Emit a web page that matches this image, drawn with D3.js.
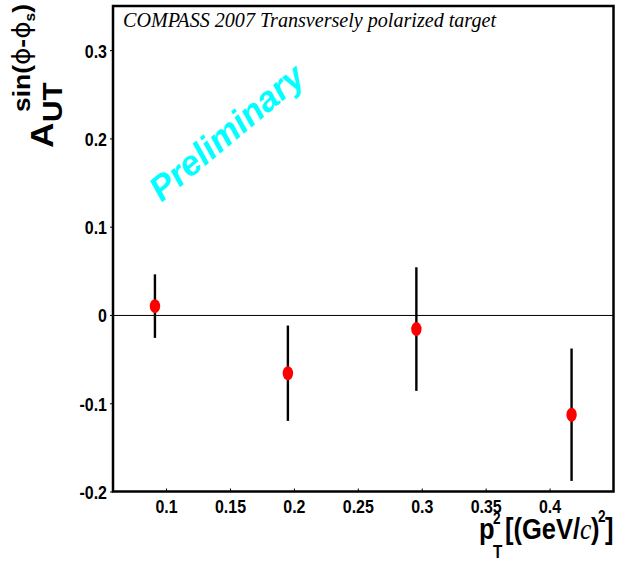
<!DOCTYPE html>
<html>
<head>
<meta charset="utf-8">
<script src="https://cdn.jsdelivr.net/npm/d3@7/dist/d3.min.js"></script>
<style>
  html, body { margin: 0; padding: 0; background: #fff; }
  svg { display: block; }
</style>
</head>
<body>
<svg id="chart" width="617" height="562" font-family="Liberation Sans, Arial, sans-serif"></svg>
<script>
// Sivers-type asymmetry vs pT^2
const ptSquared   = [0.0913, 0.1953, 0.2958, 0.4172];
const asymmetry   = [0.010, -0.066, -0.016, -0.113];
const statError   = [0.036, 0.054, 0.070, 0.075];

const xTickValues = [0.1, 0.15, 0.2, 0.25, 0.3, 0.35, 0.4];
const xTickLabels = ["0.1", "0.15", "0.2", "0.25", "0.3", "0.35", "0.4"];
const yTickValues = [-0.2, -0.1, 0, 0.1, 0.2, 0.3];
const yTickLabels = ["-0.2", "-0.1", "0", "0.1", "0.2", "0.3"];

const SANS = "Liberation Sans, Arial, sans-serif";
const SERIF = "Liberation Serif, Times New Roman, serif";

const svg = d3.select("#chart");
const frame = { left: 113, right: 613.5, top: 6, bottom: 491.5 };

const x = d3.scaleLinear().domain([0.0585, 0.45]).range([frame.left, frame.right]);
const y = d3.scaleLinear().domain([-0.2, 0.35]).range([frame.bottom, frame.top]);

// squeeze a text element horizontally to a fraction of its natural width
function squeeze(sel, k) {
  sel.each(function () {
    const w = this.getComputedTextLength();
    this.setAttribute("textLength", w * k);
    this.setAttribute("lengthAdjust", "spacingAndGlyphs");
  });
}

// y axis
const yAxis = d3.axisLeft(y)
  .tickValues(yTickValues)
  .tickFormat((d, i) => yTickLabels[i])
  .tickSize(3)
  .tickPadding(3);
const gy = svg.append("g").attr("transform", `translate(${frame.left},0)`).call(yAxis);
gy.attr("font-family", SANS);
gy.select(".domain").remove();
gy.selectAll(".tick line").attr("stroke", "#000").attr("stroke-width", 1);
gy.selectAll(".tick text")
  .attr("font-size", 19).attr("font-weight", "bold").attr("fill", "#000")
  .attr("dy", "0.37em")
  .call(squeeze, 0.84);

// x axis (ticks pointing into the frame)
const xAxis = d3.axisBottom(x)
  .tickValues(xTickValues)
  .tickFormat((d, i) => xTickLabels[i])
  .tickSizeInner(-3)
  .tickSizeOuter(0)
  .tickPadding(8);
const gx = svg.append("g").attr("transform", `translate(0,${frame.bottom})`).call(xAxis);
gx.attr("font-family", SANS);
gx.select(".domain").remove();
gx.selectAll(".tick line").attr("stroke", "#000").attr("stroke-width", 1);
gx.selectAll(".tick text")
  .attr("font-size", 19).attr("font-weight", "bold").attr("fill", "#000")
  .call(squeeze, 0.84);

// zero reference line
svg.append("line")
  .attr("x1", frame.left).attr("x2", frame.right)
  .attr("y1", y(0) + 0.5).attr("y2", y(0) + 0.5)
  .attr("stroke", "#000").attr("stroke-width", 1);

// frame
svg.append("rect")
  .attr("x", frame.left).attr("y", frame.top)
  .attr("width", frame.right - frame.left).attr("height", frame.bottom - frame.top)
  .attr("fill", "none").attr("stroke", "#000").attr("stroke-width", 2.5);

// title
svg.append("text")
  .attr("x", 123).attr("y", 27)
  .attr("font-family", SERIF)
  .attr("font-style", "italic").attr("font-size", 21)
  .attr("textLength", 373).attr("lengthAdjust", "spacingAndGlyphs")
  .text("COMPASS 2007 Transversely polarized target");

// Preliminary stamp
svg.append("text")
  .attr("transform", "translate(226,132) rotate(-40)")
  .attr("text-anchor", "middle").attr("dy", "0.36em")
  .attr("font-size", 35).attr("font-weight", "bold").attr("font-style", "italic")
  .attr("fill", "#00ffff")
  .attr("textLength", 190).attr("lengthAdjust", "spacingAndGlyphs")
  .text("Preliminary");

// data: error bars and markers
const pts = ptSquared.map((p, i) => ({ p, a: asymmetry[i], e: statError[i] }));
const gd = svg.append("g");
gd.selectAll("line.err").data(pts).join("line")
  .attr("class", "err")
  .attr("x1", d => x(d.p)).attr("x2", d => x(d.p))
  .attr("y1", d => y(d.a + d.e)).attr("y2", d => y(d.a - d.e))
  .attr("stroke", "#000").attr("stroke-width", 2.4);
gd.selectAll("ellipse").data(pts).join("ellipse")
  .attr("cx", d => x(d.p)).attr("cy", d => y(d.a))
  .attr("rx", 5.2).attr("ry", 7)
  .attr("fill", "#ff0000");

// y axis title: A_UT^{sin(phi-phi_s)}, written bottom-to-top
const ks = 1.1; // stretch along the reading direction
const yt = svg.append("g").attr("transform", `rotate(-90) scale(${ks},1)`);
const ytxt = yt.append("text").attr("font-weight", "bold").attr("fill", "#000");
ytxt.append("tspan").attr("x", -148 / ks).attr("y", 53).attr("font-size", 32).text("A");
ytxt.append("tspan").attr("x", -122 / ks).attr("y", 62).attr("font-size", 27).text("UT");
ytxt.append("tspan").attr("x", -112 / ks).attr("y", 30).attr("font-size", 24).text("sin(");
ytxt.append("tspan").attr("font-size", 24).attr("font-family", "DejaVu Sans").attr("font-weight", "normal").text("\u03D5");
ytxt.append("tspan").attr("font-size", 24).text("-");
ytxt.append("tspan").attr("font-size", 24).attr("font-family", "DejaVu Sans").attr("font-weight", "normal").text("\u03D5");
ytxt.append("tspan").attr("font-size", 14).attr("y", 35).text("s");
ytxt.append("tspan").attr("font-size", 24).attr("y", 30).text(")");

// x axis title: p_T^2 [(GeV/c)^2]
const kx = 0.85; // horizontal squeeze of the title glyphs
const x0 = 479;
const lx = sx => (sx - x0) / kx;
const xtg = svg.append("g").attr("transform", `translate(${x0},0) scale(${kx},1)`);
const xtxt = xtg.append("text").attr("font-weight", "bold").attr("fill", "#000");
xtxt.append("tspan").attr("x", lx(479)).attr("y", 539).attr("font-size", 30).text("p");
xtxt.append("tspan").attr("x", lx(493)).attr("y", 524).attr("font-size", 16).text("2");
xtxt.append("tspan").attr("x", lx(493)).attr("y", 558).attr("font-size", 18).text("T");
xtxt.append("tspan").attr("x", lx(505)).attr("y", 539).attr("font-size", 30).text("[(GeV/");
xtxt.append("tspan").attr("x", lx(580)).attr("y", 539).attr("font-size", 30)
  .attr("font-family", SERIF).attr("font-style", "italic").attr("font-weight", "normal").text("c");
xtxt.append("tspan").attr("x", lx(591)).attr("y", 539).attr("font-size", 30).text(")");
xtxt.append("tspan").attr("x", lx(598)).attr("y", 522).attr("font-size", 16).text("2");
xtxt.append("tspan").attr("x", lx(605)).attr("y", 539).attr("font-size", 30).text("]");
</script>
</body>
</html>
